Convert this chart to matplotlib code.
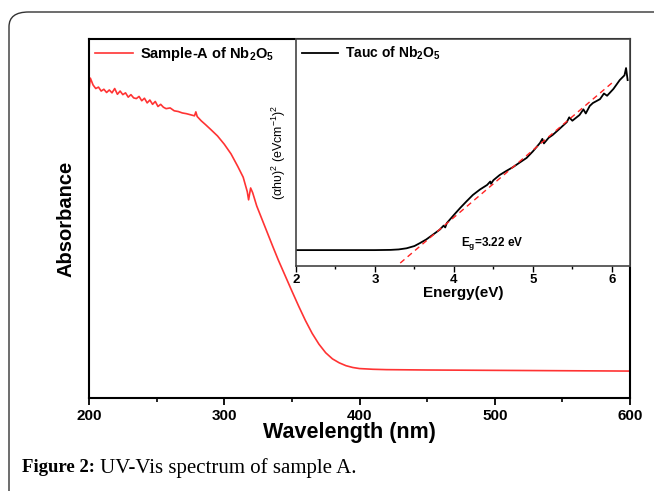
import numpy as np
import matplotlib
matplotlib.use('Agg')
import matplotlib.pyplot as plt
from matplotlib.patches import FancyBboxPatch

plt.rcParams['font.family'] = ['Liberation Sans', 'DejaVu Sans']
plt.rcParams['mathtext.fontset'] = 'custom'
plt.rcParams['mathtext.rm'] = 'Liberation Sans'
plt.rcParams['mathtext.bf'] = 'Liberation Sans:bold'
plt.rcParams['mathtext.it'] = 'Liberation Sans:italic'

# UV-Vis absorbance (arbitrary units)
wavelength = [200, 201, 203, 205, 207, 209, 211, 213, 215, 217, 219, 221, 223, 225,
              227, 229, 231, 233, 235, 237, 239, 241, 243, 245, 247, 249, 251, 253,
              255, 257, 260, 263, 266, 269, 272, 275, 278, 279, 280, 283, 286, 290,
              295, 300, 305, 310, 314, 317, 318, 319.5, 321, 324, 328, 332, 336, 340,
              345, 350, 355, 360, 365, 370, 375, 380, 385, 390, 395, 400, 410, 420,
              450, 500, 550, 600]
absorbance = [0.858, 0.891, 0.872, 0.862, 0.866, 0.855, 0.860, 0.851, 0.858, 0.850,
              0.862, 0.846, 0.855, 0.845, 0.850, 0.838, 0.845, 0.836, 0.834, 0.840,
              0.828, 0.835, 0.822, 0.830, 0.818, 0.826, 0.812, 0.818, 0.810, 0.806,
              0.808, 0.800, 0.798, 0.794, 0.792, 0.789, 0.786, 0.797, 0.784, 0.772,
              0.762, 0.748, 0.730, 0.707, 0.680, 0.645, 0.615, 0.575, 0.552, 0.585,
              0.572, 0.535, 0.497, 0.459, 0.421, 0.384, 0.341, 0.298, 0.256, 0.216,
              0.180, 0.150, 0.126, 0.109, 0.098, 0.090, 0.085, 0.082, 0.080, 0.079,
              0.078, 0.077, 0.076, 0.075]

# Tauc plot
energy = [2.0, 3.0, 3.2, 3.3, 3.4, 3.5, 3.57, 3.65, 3.73, 3.82, 3.87, 3.89, 3.91,
          4.0, 4.08, 4.16, 4.24, 4.33, 4.42, 4.46, 4.47, 4.5, 4.58, 4.66, 4.75, 4.83,
          4.92, 5.0, 5.09, 5.12, 5.14, 5.2, 5.25, 5.34, 5.43, 5.46, 5.5, 5.59, 5.64,
          5.67, 5.72, 5.76, 5.85, 5.9, 5.94, 6.02, 6.1, 6.16, 6.18, 6.2]
tauc = [0.070, 0.070, 0.071, 0.073, 0.078, 0.088, 0.101, 0.117, 0.137, 0.160, 0.178,
        0.170, 0.189, 0.225, 0.256, 0.285, 0.313, 0.337, 0.357, 0.372, 0.362, 0.378,
        0.401, 0.418, 0.436, 0.455, 0.476, 0.505, 0.542, 0.560, 0.540, 0.565, 0.577,
        0.605, 0.634, 0.655, 0.640, 0.665, 0.690, 0.672, 0.705, 0.718, 0.735, 0.760,
        0.750, 0.780, 0.819, 0.840, 0.872, 0.819]
fit_energy = [3.32, 6.0]
fit_tauc = [0.013, 0.806]

fig = plt.figure(figsize=(6.54, 4.91), dpi=100)

# page frame with rounded corner (open to the right and bottom)
frame = FancyBboxPatch((9/654, -0.3), 1.2, 1.3-12/491, boxstyle='round,pad=0,rounding_size=0.03',
                       transform=fig.transFigure, fill=False, lw=1.0, ec='#333333',
                       clip_on=False)
fig.patches.append(frame)

ax = fig.add_axes([89/654, 1-398/491, 541/654, 359/491])
ax.plot(wavelength, absorbance, color='#ff3333', lw=1.2,
        label='Sample-A of Nb$_\\mathbf{2}$O$_\\mathbf{5}$')
ax.set_xlim(200, 600)
ax.set_ylim(0, 1)
ax.set_yticks([])
ax.set_xticks([200, 300, 400, 500, 600])
ax.set_xticks([250, 350, 450, 550], minor=True)
ax.tick_params(axis='x', direction='out', length=5, width=1.3, labelsize=11, pad=3)
ax.tick_params(axis='x', which='minor', direction='out', length=3, width=1.2)
for lab in ax.get_xticklabels():
    lab.set_fontweight('bold')
for s in ax.spines.values():
    s.set_linewidth(1.5)
ax.set_xlabel('Wavelength (nm)', fontsize=15.5, fontweight='bold')
ax.xaxis.set_label_coords(0.482, -0.068)
ax.set_ylabel('Absorbance', fontsize=14.5, fontweight='bold', labelpad=10)
ax.legend(loc='upper left', frameon=False, handlelength=2.6, handletextpad=0.5,
          borderaxespad=0.2, borderpad=0.2, prop={'weight': 'bold', 'size': 10.5})

ins = fig.add_axes([296/654, 1-266/491, 334/654, 227/491])
ins.plot(energy, tauc, color='black', lw=1.3, label='Tauc of Nb$_\\mathbf{2}$O$_\\mathbf{5}$')
ins.plot(fit_energy, fit_tauc, color='#ff2222', lw=1.0, ls=(0, (4, 3)))
ins.set_xlim(2, 6.23)
ins.set_ylim(0, 1)
ins.set_yticks([])
ins.set_xticks([2, 3, 4, 5, 6])
ins.set_xticks([2.5, 3.5, 4.5, 5.5], minor=True)
ins.tick_params(axis='x', direction='out', length=4, width=1.0, labelsize=9.5, pad=2)
ins.tick_params(axis='x', which='minor', direction='out', length=2.5, width=1.0)
for lab in ins.get_xticklabels():
    lab.set_fontweight('bold')
for s in ins.spines.values():
    s.set_linewidth(1.2)
    s.set_color('#444444')
ins.set_xlabel('Energy(eV)', fontsize=11, fontweight='bold', labelpad=0)
ins.set_ylabel('(αhυ)$^2$ (eVcm$^{-1}$)$^2$', fontsize=9, labelpad=6)
ins.text(4.48, 0.10, 'E$_\\mathbf{g}$=3.22 eV', fontsize=8.5, fontweight='bold',
         ha='center', va='center')
ins.legend(loc='upper left', frameon=False, handlelength=2.6, handletextpad=0.5,
           borderaxespad=0.2, borderpad=0.2, prop={'weight': 'bold', 'size': 10})

fig.text(22/654, 1-468/491, 'Figure 2:', fontsize=13.5, fontweight='bold',
         family=['Liberation Serif'], va='center', ha='left')
fig.text(100/654, 1-468/491, 'UV-Vis spectrum of sample A.', fontsize=15,
         family=['Liberation Serif'], va='center', ha='left')

fig.savefig('out.png', dpi=100)
